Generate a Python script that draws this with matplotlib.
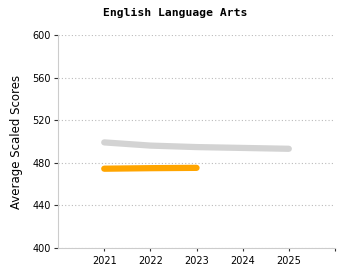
import matplotlib
matplotlib.use("Agg")
import matplotlib.pyplot as plt

years = [2021, 2022, 2023, 2024, 2025]
gray_scores = [499.2, 496.2, 494.8, 494.0, 493.2]
orange_years = [2021, 2022, 2023]
orange_scores = [474.5, 475.0, 475.3]
y_ticks = [400, 440, 480, 520, 560, 600]

fig = plt.figure(figsize=(3.5, 2.8), dpi=100)
ax = fig.add_axes([0.166, 0.114, 0.791, 0.761])

ax.plot(years, gray_scores, color="#d3d3d3", lw=4.5, solid_capstyle="round", zorder=3)
ax.plot(orange_years, orange_scores, color="#ffa500", lw=4.5, solid_capstyle="round", zorder=4)

ax.set_xlim(2020, 2026)
ax.set_ylim(400, 600)
ax.set_yticks(y_ticks)
ax.set_xticks(years + [2026])
ax.set_xticklabels([str(y) for y in years] + [""])
ax.grid(axis="y", linestyle=(0, (1, 2)), color="#bbbbbb", lw=0.8)
for s in ["top", "right"]:
    ax.spines[s].set_visible(False)
for s in ["left", "bottom"]:
    ax.spines[s].set_color("#cccccc")
ax.tick_params(axis="y", length=3, width=0.8, color="#333333", labelsize=7, pad=2)
ax.tick_params(axis="x", length=2, width=0.8, color="#333333", labelsize=7, pad=4)
ax.set_ylabel("Average Scaled Scores", fontsize=8.5, labelpad=7)
fig.suptitle("English Language Arts", x=0.5, y=0.97, fontsize=8.2, fontweight="bold", family="DejaVu Sans Mono")

fig.savefig("out.png", dpi=100)
